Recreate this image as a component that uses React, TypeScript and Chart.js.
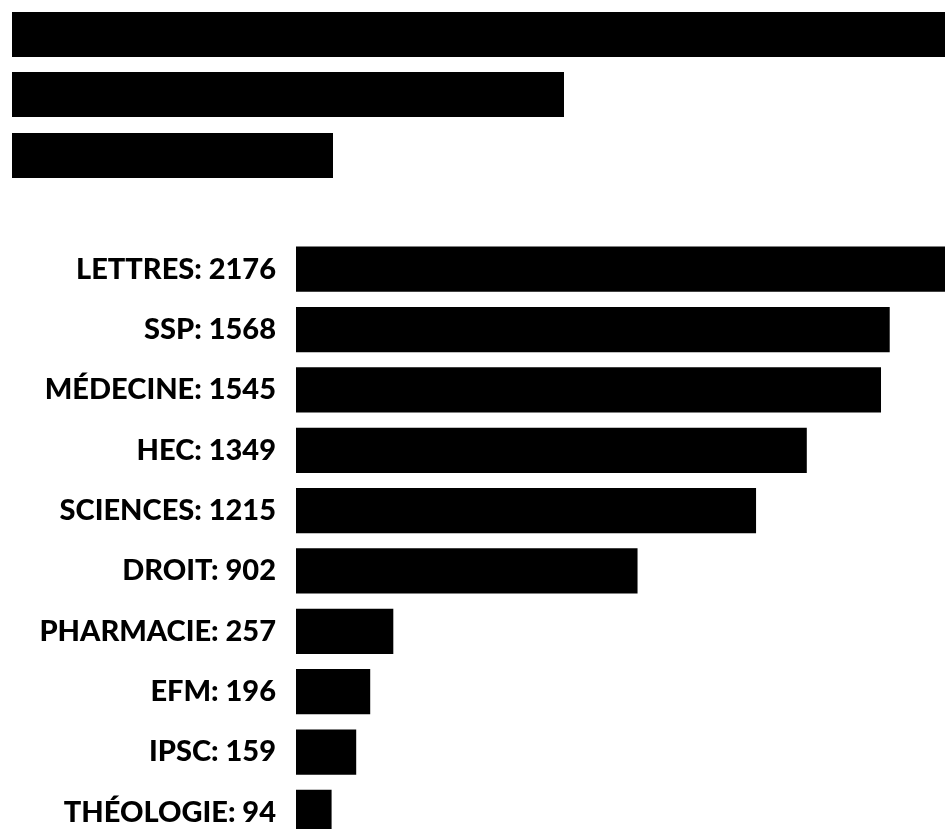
import React, { useEffect, useRef } from "react";
import { Chart, registerables } from "chart.js";

Chart.register(...registerables);

const categories = ["LETTRES", "SSP", "MÉDECINE", "HEC", "SCIENCES", "DROIT", "PHARMACIE", "EFM", "IPSC", "THÉOLOGIE"];
const values = [2176, 1568, 1545, 1349, 1215, 902, 257, 196, 159, 94];
const tickLabels = categories.map((c, i) => `${c}: ${values[i]}`);
const axisMax = 1714;

// redacted header blocks (no legible text in the reference)
const headerBlocks = [
  { left: 12, top: 12, width: 933, height: 45 },
  { left: 12, top: 72, width: 552, height: 45 },
  { left: 12, top: 133, width: 321, height: 45 },
];

export default function App() {
  const ref = useRef<HTMLCanvasElement | null>(null);

  useEffect(() => {
    if (!ref.current) return;
    const chart = new Chart(ref.current, {
      type: "bar",
      data: {
        labels: tickLabels,
        datasets: [
          {
            data: values,
            backgroundColor: "#000000",
            borderWidth: 0,
            barPercentage: 0.75,
            categoryPercentage: 1,
          },
        ],
      },
      options: {
        indexAxis: "y",
        responsive: false,
        maintainAspectRatio: false,
        animation: false,
        layout: { padding: { left: 0, right: 3, top: 239, bottom: 8 } },
        plugins: { legend: { display: false }, tooltip: { enabled: false }, title: { display: false } },
        scales: {
          x: { display: false, min: 0, max: axisMax },
          y: {
            grid: { display: false, drawTicks: false },
            border: { display: false },
            afterFit: (s: any) => {
              s.width = 296;
            },
            ticks: {
              padding: 20,
              color: "#000000",
              font: { family: "Lato", weight: "900", size: 29 },
            },
          },
        },
      },
    });
    return () => chart.destroy();
  }, []);

  return (
    <div style={{ position: "fixed", left: 0, top: 0, width: 948, height: 829, overflow: "hidden", background: "#fff" }}>
      <canvas ref={ref} width={948} height={880} style={{ position: "absolute", left: 0, top: 0 }} />
      {headerBlocks.map((b, i) => (
        <div
          key={i}
          style={{ position: "absolute", left: b.left, top: b.top, width: b.width, height: b.height, background: "#000" }}
        />
      ))}
    </div>
  );
}
